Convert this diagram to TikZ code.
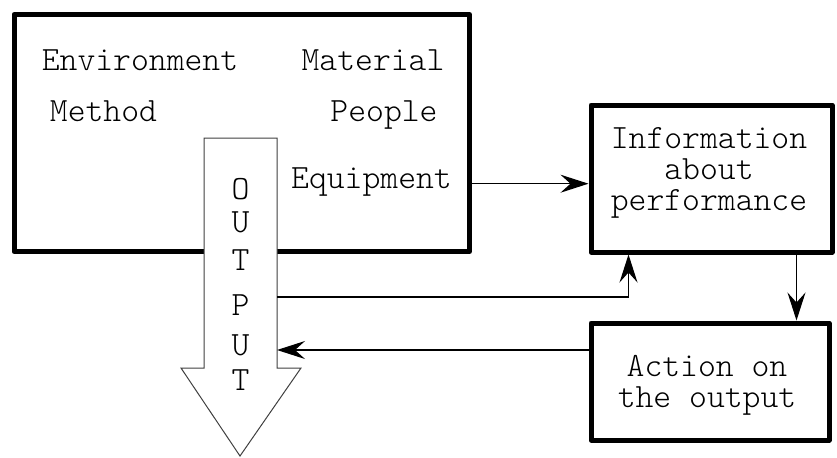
\documentclass[tikz,border=0pt]{standalone}
\usepackage{fontspec}
\setmonofont{Latin Modern Mono Light}
\usetikzlibrary{arrows.meta,calc}
\tikzset{x=0.5pt,y=-0.5pt,
    every node/.style={font=\ttfamily\fontsize{17}{15.5}\selectfont},
    thickbox/.style={draw,line width=2.5pt,line join=round,inner sep=0pt},
    flow/.style={-{Stealth[length=14pt,width=9pt,inset=5pt]},line width=0.6pt},
    }
\begin{document}
\begin{tikzpicture}
	\useasboundingbox (0,0) rectangle (837,457);
	% the process
	\node[thickbox,minimum width=227.75pt,minimum height=118.5pt] (sys) at (241.75,133) {};
	\node[anchor=base] (env) at (140,70) {Environment};
	\node[anchor=base] (mat) at (373,70) {Material};
	\node[anchor=base] (meth) at (103.5,121) {Method};
	\node[anchor=base] (peop) at (384,121) {People};
	\node[anchor=base] (equip) at (371.5,188) {Equipment};
	% the output arrow
	\draw[line width=0.5pt,draw=black!75,fill=white] (204,138) -- (277,138) -- (277,368)
		-- (301,368) -- (240,456) -- (181,368) -- (204,368) -- cycle;
	\foreach \l/\y [count=\i] in {O/189,U/222,T/260,P/305,U/345,T/380}
		\node (out\i) at (240.5,\y) {\l};
	\coordinate (fbin) at (277,297);
	\coordinate (fbout) at (277,350);
	% feedback boxes
	\node[thickbox,minimum width=120.5pt,minimum height=73.5pt] (info) at (711.5,178.5) {};
	\node[align=center] (infotxt) at (709,173) {Information\\about\\performance};
	\node[thickbox,minimum width=119pt,minimum height=58.5pt] (action) at (710,381.5) {};
	\node[align=center] (actiontxt) at (707,385) {Action on\\the output};
	\coordinate (dn) at ($(info.south east)+(-38,0)$);
	\draw[flow] (sys.east |- equip.mid) -- (info.west |- equip.mid);
	\draw[flow] (fbin) -| ($(info.south west)+(40,0)$);
	\draw[flow] (dn) -- (dn |- action.north);
	\draw[flow] (action.west |- fbout) -- (fbout);
\end{tikzpicture}
\end{document}
